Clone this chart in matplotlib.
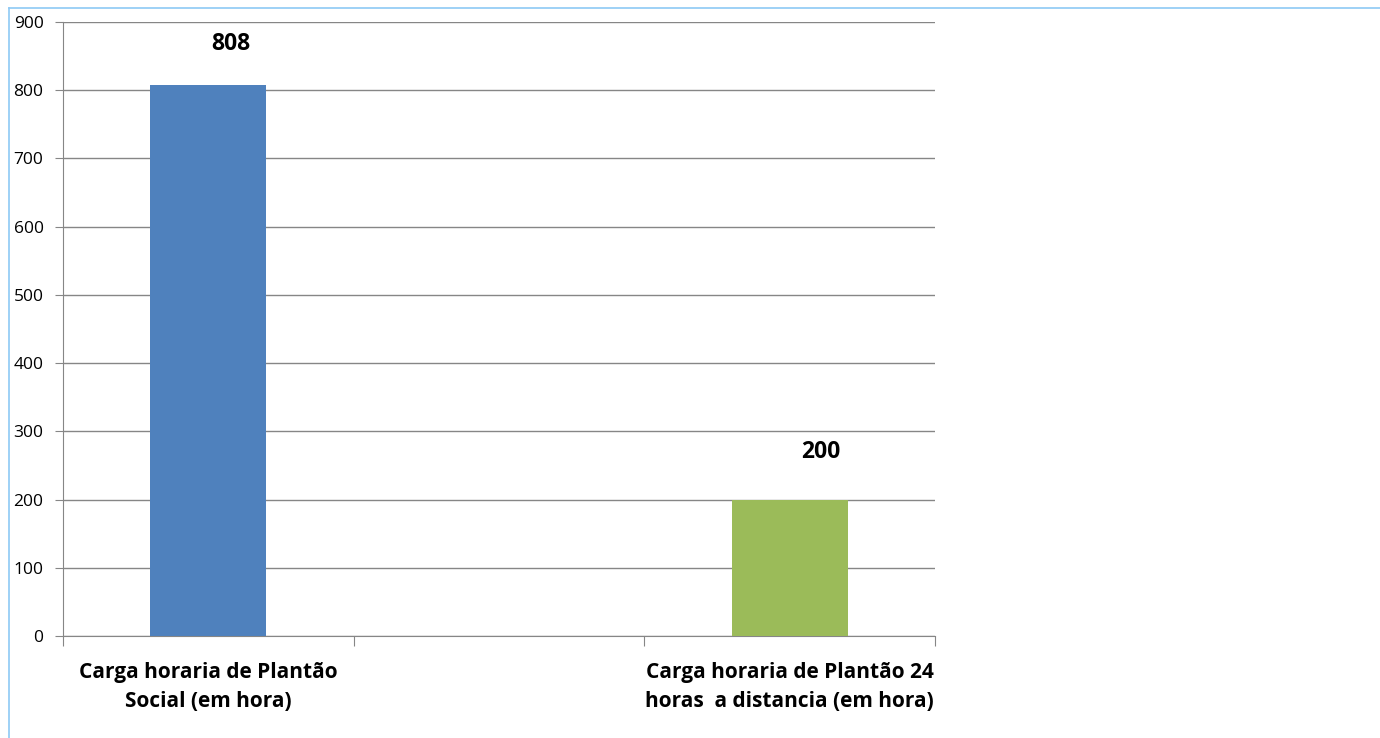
import matplotlib
matplotlib.use("Agg")
import matplotlib.pyplot as plt
from matplotlib.lines import Line2D
import numpy as np

categories = ["Carga horaria de Plantão\nSocial (em hora)", "", "Carga horaria de Plantão 24\nhoras  a distancia (em hora)"]
values = [808, np.nan, 200]
colors = ["#4F81BD", "#9BBB59", "#9BBB59"]
yticks = [0, 100, 200, 300, 400, 500, 600, 700, 800, 900]
# pixel offsets of the value labels from the top-centre of each bar (style)
label_offsets = [(22, 41), (0, 0), (31, 48)]

plt.rcParams['font.family'] = ['Open Sans', 'DejaVu Sans']

W, H = 1380, 738
fig = plt.figure(figsize=(W/100, H/100), dpi=100)
ax = fig.add_axes([63/W, 1-636/H, (935-63)/W, (636-22)/H])

x = np.arange(len(categories))
ax.bar(x, values, width=0.4, color=colors, zorder=3)
for xi, v, off in zip(x, values, label_offsets):
    if not np.isnan(v):
        ax.annotate(f"{int(v)}", (xi, v), xytext=off, textcoords="offset pixels",
                    ha="center", va="center", fontsize=16.5, fontweight="bold", color="#000000")

ax.set_xlim(-0.5, len(categories) - 0.5)
ax.set_ylim(0, 900)
ax.set_yticks(yticks)
ax.set_yticklabels([str(t) for t in yticks], fontsize=12.5, color="#000000")
ax.yaxis.grid(True, color="#868686", linewidth=1, zorder=0)
ax.set_xticks(np.arange(-0.5, len(categories)), labels=[""] * (len(categories) + 1))
ax.set_xticks(x, labels=categories, minor=True)
ax.tick_params(axis="x", which="major", length=7, color="#868686", direction="out")
ax.tick_params(axis="x", which="minor", length=0, pad=19, labelsize=15)
for lab in ax.get_xticklabels(minor=True):
    lab.set_fontweight("bold")
    lab.set_linespacing(1.5)
ax.tick_params(axis="y", length=6, color="#868686", pad=8)
for s in ["top", "right"]:
    ax.spines[s].set_visible(False)
for s in ["left", "bottom"]:
    ax.spines[s].set_color("#868686")

fig.add_artist(Line2D([9/W, 1], [1-8/H, 1-8/H], color="#8EC9F5", linewidth=1.2, transform=fig.transFigure))
fig.add_artist(Line2D([9/W, 9/W], [0, 1-8/H], color="#8EC9F5", linewidth=1.2, transform=fig.transFigure))

fig.savefig("out.png", dpi=100)
